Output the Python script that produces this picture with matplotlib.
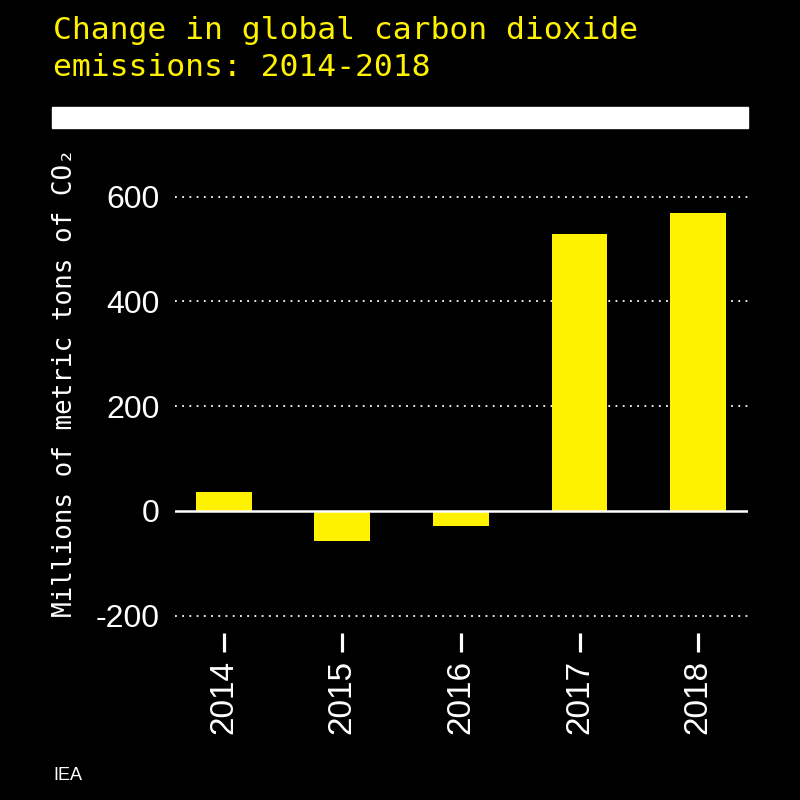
import matplotlib.pyplot as plt
from matplotlib.patches import Rectangle

plt.rcParams['font.family'] = 'sans-serif'
plt.rcParams['font.sans-serif'] = ['Liberation Sans']

# ==============================================================================
# DATA
# ==============================================================================

YEARS  = ["2014", "2015", "2016", "2017", "2018"]
CHANGE = [36, -57, -29, 529, 568]          # million tonnes CO2
YTICKS = [-200, 0, 200, 400, 600]

TITLE_1 = "Change in global carbon dioxide"
TITLE_2 = "emissions: 2014-2018"

YELLOW = "#FFF200"

# ==============================================================================
# FIGURE
# ==============================================================================

fig = plt.figure(figsize=(8, 8), dpi=100, facecolor="black")
ax = fig.add_axes([175 / 800, 1 - 633 / 800, (748 - 175) / 800, (633 - 160) / 800])
ax.set_facecolor("black")

x = range(len(YEARS))
ax.bar(x, CHANGE, width=0.47, color=YELLOW, zorder=3)

ax.set_xlim(-0.41, len(YEARS) - 1 + 0.42)
ax.set_ylim(-233, 670)

# gridlines (dotted) and the zero baseline
for v in YTICKS:
    if v == 0:
        ax.axhline(0, color="white", lw=1.8, zorder=4)
    else:
        ax.axhline(v, color="white", lw=1.3, ls=(0, (1, 3)), zorder=1)

for s in ax.spines.values():
    s.set_visible(False)

ax.set_xticks(list(x))
ax.set_xticklabels(YEARS, rotation=90, fontsize=24, color="white")
ax.tick_params(axis="x", length=13.5, width=2.3, color="white", pad=6)

ax.set_yticks(YTICKS)
ax.set_yticklabels([str(v) for v in YTICKS], fontsize=23, color="white")
ax.tick_params(axis="y", length=0, pad=11)

ax.set_ylabel("Millions of metric tons of CO\u2082", family="DejaVu Sans Mono",
              fontsize=18.7, color="white")
ax.yaxis.set_label_coords(-0.169, 0.53)

# title, white band and source
fig.text(53 / 800, 1 - 39 / 800, TITLE_1, family="DejaVu Sans Mono", fontsize=22.6,
         color=YELLOW, ha="left", va="baseline")
fig.text(53 / 800, 1 - 76 / 800, TITLE_2, family="DejaVu Sans Mono", fontsize=22.6,
         color=YELLOW, ha="left", va="baseline")
fig.patches.append(Rectangle((52 / 800, 1 - 128 / 800), (748 - 52) / 800, 21 / 800,
                             transform=fig.transFigure, color="white"))
fig.text(53 / 800, 1 - 780 / 800, "IEA", fontsize=13, color="white", ha="left", va="baseline")

fig.savefig("out.png", dpi=100, facecolor="black")
